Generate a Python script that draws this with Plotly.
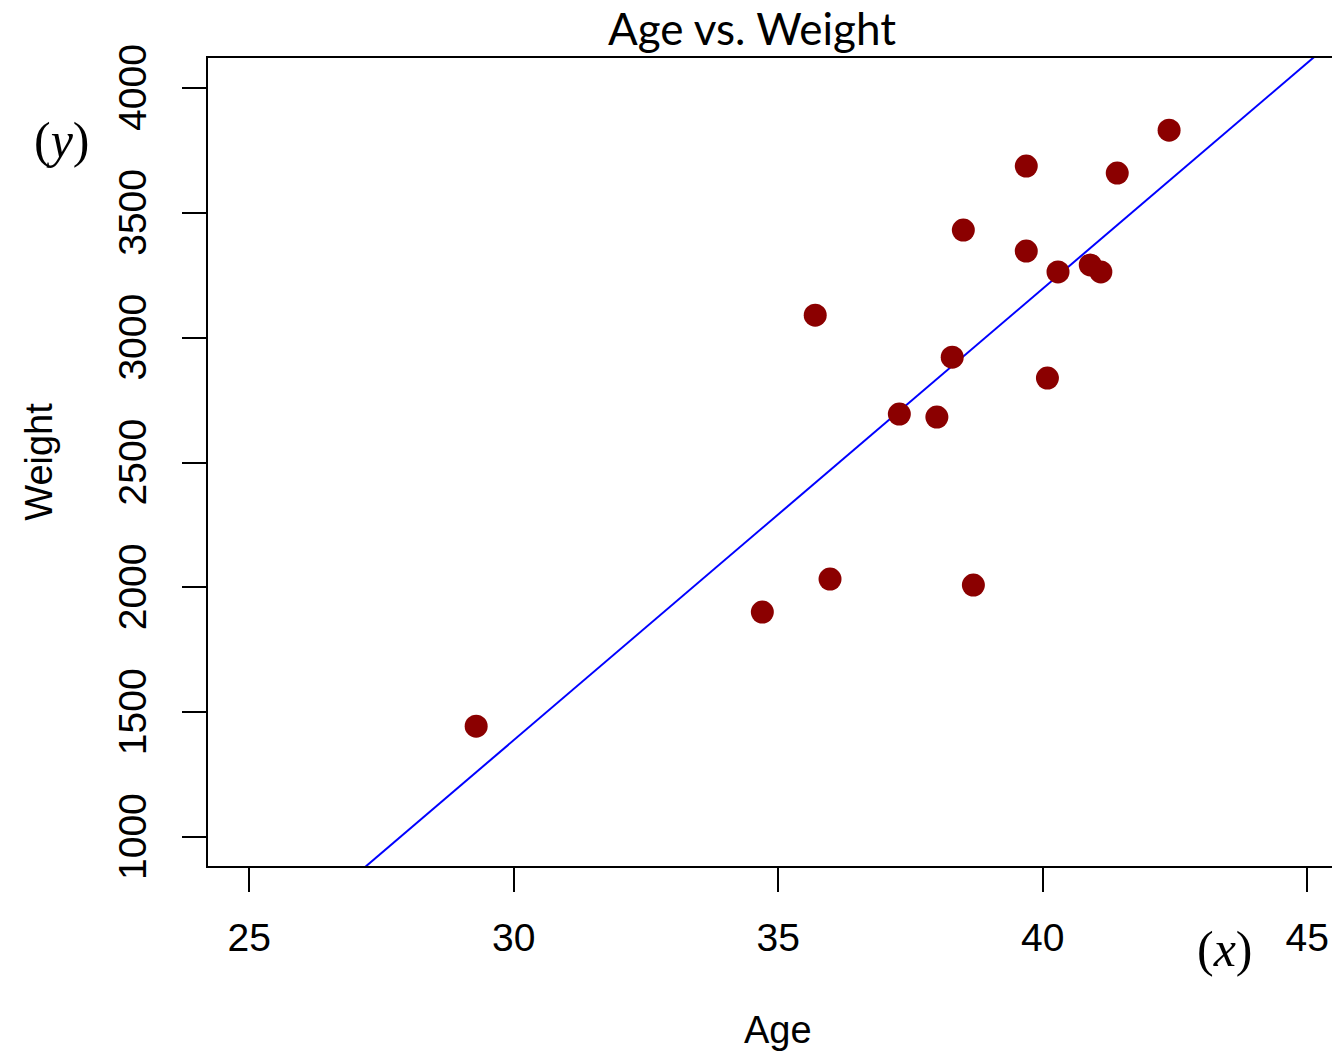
import plotly.graph_objects as go

# Data
age = [29.29, 34.70, 35.70, 35.98, 37.29, 38.00, 38.29, 38.50, 38.69,
       39.69, 39.69, 40.09, 40.29, 40.90, 41.10, 41.41, 42.39]
weight = [1444, 1901, 3090, 2033, 2694, 2682, 2922, 3431, 2009,
          3687, 3347, 2838, 3263, 3291, 3263, 3659, 3831]

line_intercept = -4036.0
line_slope = 180.8

x_ticks = [25, 30, 35, 40, 45]
y_ticks = [1000, 1500, 2000, 2500, 3000, 3500, 4000]

x_range = [24.22, 45.47]
y_range = [884, 4120]

W, H = 1332, 1052
L, R, T, B = 208, 0, 58, 186
PW, PH = W - L - R, H - T - B

fig = go.Figure()

line_x = x_range
line_y = [line_intercept + line_slope * v for v in line_x]
fig.add_trace(go.Scatter(x=line_x, y=line_y, mode="lines",
                         line=dict(color="#0000ff", width=2),
                         showlegend=False, hoverinfo="skip"))

fig.add_trace(go.Scatter(x=age, y=weight, mode="markers",
                         marker=dict(color="#8b0000", size=23),
                         showlegend=False))

tick_font = dict(family="Liberation Sans, Arial", size=39, color="black")
title_font = dict(family="Liberation Sans, Arial", size=38, color="black")

fig.update_layout(
    width=W, height=H,
    margin=dict(l=L, r=R, t=T, b=B, pad=0),
    paper_bgcolor="white", plot_bgcolor="white",
    title=dict(text="Age vs. Weight", x=752 / W, xanchor="center",
               xref="container", y=1 - 30 / H, yanchor="middle", yref="container",
               font=dict(family="Lato, Open Sans", size=44, color="black")),
    xaxis=dict(range=x_range, tickvals=x_ticks, ticktext=[str(v) for v in x_ticks],
               showgrid=False, zeroline=False, showline=True, linecolor="black",
               linewidth=2, mirror=True, ticks="outside", ticklen=24, tickwidth=2,
               tickcolor="black", tickfont=tick_font, ticklabelstandoff=12),
    yaxis=dict(range=y_range, tickvals=y_ticks,
               ticktext=[str(v) + "\u00a0" for v in y_ticks],
               showgrid=False, zeroline=False, showline=True, linecolor="black",
               linewidth=2, mirror=False, ticks="outside", ticklen=24, tickwidth=2,
               tickcolor="black", tickfont=tick_font, tickangle=-90,
               ticklabelstandoff=20,
               title=dict(text="Weight", font=title_font, standoff=47)),
)

fig.add_annotation(text="Age", xref="paper", yref="paper",
                   x=(778 - L) / PW, y=(H - B - 1030) / PH,
                   showarrow=False, xanchor="center", yanchor="middle",
                   font=title_font)
fig.add_annotation(text="(<i>y</i>)", xref="paper", yref="paper",
                   x=(62 - L) / PW, y=(H - B - 140) / PH,
                   showarrow=False, xanchor="center", yanchor="middle",
                   font=dict(family="Liberation Serif, Times New Roman", size=50, color="black"))
fig.add_annotation(text="(<i>x</i>)", xref="paper", yref="paper",
                   x=(1225 - L) / PW, y=(H - B - 949) / PH,
                   showarrow=False, xanchor="center", yanchor="middle",
                   font=dict(family="Liberation Serif, Times New Roman", size=50, color="black"))

fig.write_html("out.html", config={"displayModeBar": False},
               post_script="document.body.style.margin='0';document.body.style.overflow='hidden';")
